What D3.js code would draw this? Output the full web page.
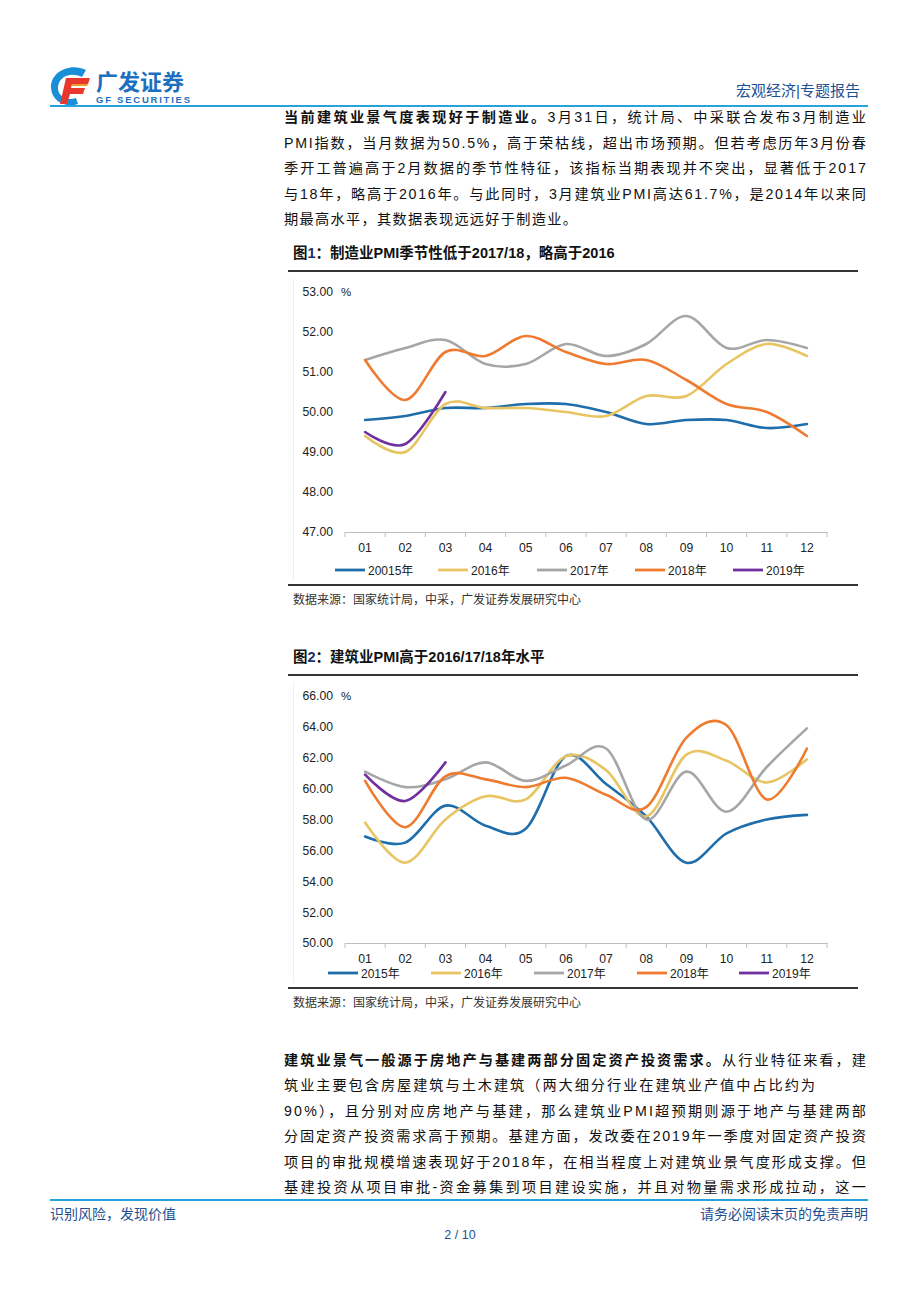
<!DOCTYPE html>
<html><head><meta charset="utf-8">
<script src="https://cdn.jsdelivr.net/npm/d3@7"></script>
<style>
html,body{margin:0;padding:0;background:#fff;}
svg{display:block;}
text{font-family:'Liberation Sans','Noto Sans CJK SC',Arial,sans-serif;}
</style></head>
<body>
<svg id="page" width="920" height="1302"></svg>
<script>
// ---------- data ----------
const months = ["01","02","03","04","05","06","07","08","09","10","11","12"];
const seriesNames1 = ["20015年","2016年","2017年","2018年","2019年"];
const seriesNames2 = ["2015年","2016年","2017年","2018年","2019年"];
const seriesColors = ["#1f6eab","#e8c562","#a6a6a6","#ee7b30","#7030a0"];

// Figure 1: manufacturing PMI
const mfg2015 = [49.8,49.9,50.1,50.1,50.2,50.2,50.0,49.7,49.8,49.8,49.6,49.7];
const mfg2016 = [49.4,49.0,50.2,50.1,50.1,50.0,49.9,50.4,50.4,51.2,51.7,51.4];
const mfg2017 = [51.3,51.6,51.8,51.2,51.2,51.7,51.4,51.7,52.4,51.6,51.8,51.6];
const mfg2018 = [51.3,50.3,51.5,51.4,51.9,51.5,51.2,51.3,50.8,50.2,50.0,49.4];
const mfg2019 = [49.5,49.2,50.5];
const mfgTicks = [47,48,49,50,51,52,53];

// Figure 2: construction PMI
const con2015 = [56.9,56.5,58.9,57.6,57.4,62.1,60.3,58.2,55.2,57.1,58.0,58.3];
const con2016 = [57.8,55.2,58.0,59.5,59.3,62.1,61.2,58.2,62.2,61.8,60.4,61.9];
const con2017 = [61.1,60.1,60.6,61.7,60.5,61.5,62.6,58.0,61.1,58.5,61.4,63.9];
const con2018 = [60.5,57.5,60.8,60.6,60.1,60.7,59.6,58.8,63.3,64.1,59.3,62.6];
const con2019 = [60.9,59.2,61.7];
const conTicks = [50,52,54,56,58,60,62,64,66];

// ---------- page ----------
const svg = d3.select("#page");
const navy = "#1d4f93";

// header logo
const logo = svg.append("g");
logo.append("path").attr("d","M86,70 C70,62 50,72 51,88 C52,102 66,108 78,104 L76,98 C66,101 58,96 58,88 C58,77 70,71 82,77 Z").attr("fill","#1a8fd8");
logo.append("path").attr("d","M66,78 L90,78 L88,84 L72,84 L71,88 L85,88 L83,94 L70,94 L67,104 L60,104 Z").attr("fill","#e8382e");
logo.append("path").attr("d","M72,84 L88,84 L87,86 L72,86 Z").attr("fill","#f39a2b");
logo.append("text").attr("x",96).attr("y",90).attr("font-size",22).attr("font-weight","bold").attr("fill","#1d6fc0").text("广发证券");
logo.append("text").attr("x",96).attr("y",103).attr("font-size",9.5).attr("font-weight","bold").attr("fill","#1d6fc0").attr("textLength",94).text("GF SECURITIES");
svg.append("text").attr("x",860).attr("y",96).attr("text-anchor","end").attr("font-size",15).attr("fill",navy).text("宏观经济|专题报告");
svg.append("line").attr("x1",50).attr("x2",868).attr("y1",106).attr("y2",106).attr("stroke","#27a3dc").attr("stroke-width",2);

// paragraphs
function para(lines, y0, dy){
  lines.forEach((ln,i)=>{
    const t = svg.append("text").attr("x",284).attr("y",y0+i*dy).attr("font-size",14.2).attr("fill","#111");
    if(ln.bold){ t.append("tspan").attr("font-weight","bold").text(ln.bold); }
    t.append("tspan").text(ln.text);
    t.attr("textLength",ln.w || 582).attr("lengthAdjust","spacing");
  });
}
para([
  {bold:"当前建筑业景气度表现好于制造业。",text:"3月31日，统计局、中采联合发布3月制造业"},
  {text:"PMI指数，当月数据为50.5%，高于荣枯线，超出市场预期。但若考虑历年3月份春"},
  {text:"季开工普遍高于2月数据的季节性特征，该指标当期表现并不突出，显著低于2017"},
  {text:"与18年，略高于2016年。与此同时，3月建筑业PMI高达61.7%，是2014年以来同"},
  {text:"期最高水平，其数据表现远远好于制造业。",w:293}
],122,25.5);
para([
  {bold:"建筑业景气一般源于房地产与基建两部分固定资产投资需求。",text:"从行业特征来看，建"},
  {text:"筑业主要包含房屋建筑与土木建筑（两大细分行业在建筑业产值中占比约为",w:531},
  {text:"90%），且分别对应房地产与基建，那么建筑业PMI超预期则源于地产与基建两部"},
  {text:"分固定资产投资需求高于预期。基建方面，发改委在2019年一季度对固定资产投资"},
  {text:"项目的审批规模增速表现好于2018年，在相当程度上对建筑业景气度形成支撑。但"},
  {text:"基建投资从项目审批-资金募集到项目建设实施，并且对物量需求形成拉动，这一"}
],1065,25.4);

// ---------- charts ----------
function drawChart(cfg){
  const g = svg.append("g");
  // title
  const tt = g.append("text").attr("x",293).attr("y",cfg.titleY).attr("font-size",14.5).attr("font-weight","bold").attr("fill","#111");
  tt.append("tspan").text("图");
  tt.append("tspan").attr("fill","#1b2f6b").text(cfg.num);
  tt.append("tspan").text("：" + cfg.title);
  g.append("line").attr("x1",288).attr("x2",858).attr("y1",cfg.titleY+13).attr("y2",cfg.titleY+13).attr("stroke","#333").attr("stroke-width",2);
  // faint chart-area border
  g.append("line").attr("x1",293.5).attr("x2",293.5).attr("y1",cfg.titleY+20).attr("y2",cfg.legendY+10).attr("stroke","#f0f0f0");

  const x = d3.scaleBand().domain(months).range([345,827]);
  const y = d3.scaleLinear().domain(cfg.yDomain).range(cfg.yRange);
  const cx = m => x(m) + x.bandwidth()/2;

  // y axis labels
  const ya = g.append("g").attr("transform","translate(345,0)")
    .call(d3.axisLeft(y).tickValues(cfg.ticks).tickFormat(d3.format(".2f")).tickSize(0).tickPadding(12));
  ya.select(".domain").remove();
  ya.selectAll("text").attr("font-size",12.2).attr("fill","#222").style("font-family","'Liberation Sans',Arial,sans-serif");
  g.append("text").attr("x",341).attr("y",y(cfg.yDomain[1])+4).attr("font-size",11.5).attr("fill","#222").text("%");

  // x axis
  const xa = g.append("g").attr("transform",`translate(0,${y(cfg.yDomain[0])})`)
    .call(d3.axisBottom(x).tickSize(0).tickPadding(11));
  xa.select(".domain").attr("stroke","#bfbfbf");
  xa.selectAll("text").attr("font-size",12.2).attr("fill","#222").style("font-family","'Liberation Sans',Arial,sans-serif");
  const bounds = months.map(m=>x(m)).concat([x(months[months.length-1])+x.bandwidth()]);
  xa.selectAll(".bt").data(bounds).enter().append("line").attr("class","bt")
    .attr("x1",d=>d).attr("x2",d=>d).attr("y1",0).attr("y2",5).attr("stroke","#bfbfbf");

  // lines
  const line = d3.line().x((d,i)=>cx(months[i])).y(d=>y(d)).curve(d3.curveCatmullRom.alpha(0));
  cfg.series.forEach((s,i)=>{
    g.append("path").datum(s).attr("d",line).attr("fill","none")
      .attr("stroke",seriesColors[i]).attr("stroke-width",2.6).attr("stroke-linecap","round").attr("stroke-linejoin","round");
  });

  // legend
  cfg.names.forEach((n,i)=>{
    const lx = cfg.legendX[i];
    g.append("line").attr("x1",lx).attr("x2",lx+30).attr("y1",cfg.legendY).attr("y2",cfg.legendY)
      .attr("stroke",seriesColors[i]).attr("stroke-width",2.8);
    g.append("text").attr("x",lx+33).attr("y",cfg.legendY+4.5).attr("font-size",12).attr("fill","#222").text(n);
  });

  // source
  g.append("line").attr("x1",288).attr("x2",858).attr("y1",cfg.legendY+15).attr("y2",cfg.legendY+15).attr("stroke","#333").attr("stroke-width",2);
  g.append("text").attr("x",293).attr("y",cfg.legendY+34).attr("font-size",12).attr("fill","#333").text("数据来源：国家统计局，中采，广发证券发展研究中心");
}

drawChart({
  num:"1", title:"制造业PMI季节性低于2017/18，略高于2016",
  titleY:258, yDomain:[47,53], yRange:[532,292], ticks:mfgTicks,
  series:[mfg2015,mfg2016,mfg2017,mfg2018,mfg2019], names:seriesNames1,
  legendY:570, legendX:[335,438,537,635,733]
});
drawChart({
  num:"2", title:"建筑业PMI高于2016/17/18年水平",
  titleY:662, yDomain:[50,66], yRange:[943,696], ticks:conTicks,
  series:[con2015,con2016,con2017,con2018,con2019], names:seriesNames2,
  legendY:973, legendX:[328,431,534,637,739]
});

// footer
svg.append("line").attr("x1",50).attr("x2",868).attr("y1",1200).attr("y2",1200).attr("stroke","#27a3dc").attr("stroke-width",2);
svg.append("text").attr("x",50).attr("y",1219).attr("font-size",14).attr("fill",navy).text("识别风险，发现价值");
svg.append("text").attr("x",868).attr("y",1219).attr("text-anchor","end").attr("font-size",14).attr("fill",navy).text("请务必阅读末页的免责声明");
svg.append("text").attr("x",460).attr("y",1239).attr("text-anchor","middle").attr("font-size",12.5).attr("fill",navy).text("2 / 10");
</script>
</body></html>
